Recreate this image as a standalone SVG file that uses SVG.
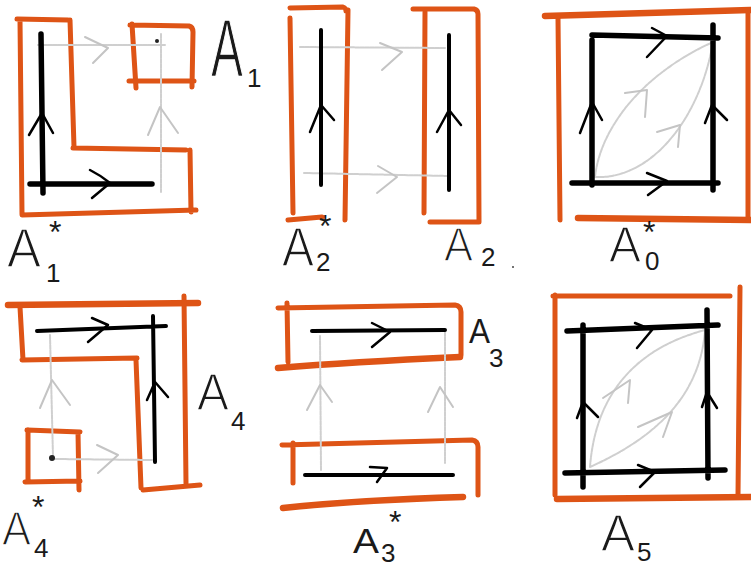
<svg xmlns="http://www.w3.org/2000/svg" width="751" height="569" viewBox="0 0 751 569">
<style>
.o{fill:none;stroke:#DE5416;stroke-width:5;stroke-linecap:round;stroke-linejoin:round}
.ot{stroke-width:6.5}
.b{fill:none;stroke:#000;stroke-width:4;stroke-linecap:round}
.bt{stroke-width:5.5}
.bc{fill:none;stroke:#000;stroke-width:2.5;stroke-linecap:round;stroke-linejoin:round}
.g{fill:none;stroke:#cfcfcf;stroke-width:2;stroke-linecap:round;stroke-dasharray:4 1}
.gc{fill:none;stroke:#c4c4c4;stroke-width:2;stroke-linecap:round;stroke-linejoin:round}
.A{font-family:"Liberation Sans",Arial,sans-serif;fill:#1a1a1a;stroke:#fff;stroke-width:1.5}
.As{font-family:"Liberation Sans",Arial,sans-serif;fill:#1a1a1a}
.s{font-family:"Liberation Sans",Arial,sans-serif;fill:#1a1a1a;font-size:26px}
.st{font-family:"Liberation Sans",Arial,sans-serif;fill:#1a1a1a;font-size:32px}
</style>
<rect width="751" height="569" fill="#fff"/>

<g id="panel1">
  <path class="o" d="M17,19 L68,20 M20,20 L22,214 M70,20 L74,147 M73,148 L186,150 M190,150 L191,212 M22,215 L196,210"/>
  <path class="o" d="M132,24 L136,88 M130,25 L189,26 Q193,27 193,32 L192,87 M129,81 L194,81"/>
  <path class="g" d="M38,45 L165,45 M161,34 L161,192"/>
  <path class="gc" d="M85,37 L108,48 L93,63 M148,135 L160,107 L178,133"/>
  <path class="b bt" d="M41,34 L43,193 M30,184 L152,184"/>
  <path class="bc" d="M29,135 L42,113 L53,133 M90,170 Q100,175 110,183 L92,198"/>
  <circle cx="157" cy="41" r="2" fill="#222"/>
  <text class="A" transform="translate(211,76) scale(0.585,1)" font-size="82" stroke-width="2.6">A</text>
  <text class="s" x="247" y="87">1</text>
  <text class="A" transform="translate(7,267) scale(0.91,1)" font-size="56">A</text>
  <text class="st" x="49" y="243">*</text>
  <text class="s" x="46" y="282">1</text>
</g>

<g id="panel2">
  <path class="o" d="M290,8 L343,7 Q346,8 346,11 M290,18 L293,213 M348,10 L345,220 M288,220 L322,217"/>
  <path class="o" d="M413,9 L474,9 Q478,10 478,14 M425,12 L424,213 M478,14 L479,222 M430,222 L478,222"/>
  <path class="g" d="M300,47 L445,48 M304,173 L450,176"/>
  <path class="gc" d="M380,43 L402,52 L382,70 M378,166 L397,177 L377,193"/>
  <path class="b" d="M321,30 L321,185 M449,35 L449,190"/>
  <path class="bc" d="M310,132 L321,105 L334,120 M437,132 L449,110 L461,125"/>
  <text class="A" transform="translate(282,266) scale(0.857,1)" font-size="56">A</text>
  <text class="s" x="316" y="271">2</text>
  <text class="st" x="319" y="237">*</text>
  <text class="A" transform="translate(444,261) scale(0.906,1)" font-size="48">A</text>
  <text class="s" x="481" y="266">2</text>
  <circle cx="513" cy="267" r="1" fill="#444"/>
</g>

<g id="panel0">
  <path class="o ot" d="M545,16 L750,10 M578,218 L750,220"/>
  <path class="o" d="M558,18 L560,220 M748,12 L748,220"/>
  <path class="g" d="M595,177 C600,130 640,75 713,42 M595,177 C650,180 700,120 713,42"/>
  <path class="gc" d="M625,93 L647,90 L645,117 M657,132 L680,125 L678,147"/>
  <path class="b bt" d="M592,35 L718,38 M592,40 L592,185 M713,25 L713,190 M572,183 L718,183"/>
  <path class="bc" d="M652,28 L667,36 L647,57 M580,133 L592,102 L602,120 M705,123 L712,105 L727,120 M647,173 L667,181 L648,195"/>
  <text class="A" transform="translate(609,262) scale(0.96,1)" font-size="50">A</text>
  <text class="st" x="643" y="243">*</text>
  <text class="s" x="645" y="270" font-size="22">0</text>
</g>

<g id="panel4">
  <path class="o ot" d="M8,305 L198,303"/>
  <path class="o" d="M20,307 L23,360 M22,360 L137,358 M136,360 L141,488 M143,490 L200,485 M184,296 L186,484"/>
  <path class="o" d="M27,430 L80,432 M28,430 L28,482 M78,432 L79,490 M25,482 L80,481"/>
  <path class="g" d="M50,335 L53,457 M55,459 L152,460"/>
  <path class="gc" d="M40,408 L52,380 L70,405 M97,445 L118,455 L98,473"/>
  <path class="b" d="M37,331 L166,326 M153,316 L155,462"/>
  <path class="bc" d="M92,318 L108,325 L88,342 M147,400 L155,382 L168,397"/>
  <circle cx="52" cy="458" r="3" fill="#222"/>
  <text class="A" transform="translate(197,410) scale(0.92,1)" font-size="52">A</text>
  <text class="s" x="231" y="430">4</text>
  <text class="A" transform="translate(2,545) scale(0.887,1)" font-size="49">A</text>
  <text class="st" x="32" y="518">*</text>
  <text class="s" x="34" y="557">4</text>
</g>

<g id="panel3">
  <path class="o" d="M278,308 L455,305 Q461,306 461,312 L461,355 M287,303 L288,362"/>
  <path class="o ot" d="M278,368 Q350,362 460,357"/>
  <path class="o" d="M282,445 L472,440 Q478,441 478,447 L478,495 M293,443 L293,483"/>
  <path class="o ot" d="M283,508 Q360,500 463,497"/>
  <path class="g" d="M320,336 L321,470 M445,332 L445,463"/>
  <path class="gc" d="M307,410 L320,385 L332,402 M428,412 L440,387 L453,407"/>
  <path class="b" d="M312,331 L445,330 M305,475 L453,475"/>
  <path class="bc" d="M372,323 L390,332 L372,347 M370,467 L387,468 L377,482"/>
  <text class="As" transform="translate(469,343) scale(0.875,1)" font-size="36">A</text>
  <text class="s" x="489" y="367">3</text>
  <text class="As" transform="translate(353,553) scale(1.08,1)" font-size="36">A</text>
  <text class="st" x="389" y="533">*</text>
  <text class="s" x="381" y="562">3</text>
</g>

<g id="panel5">
  <path class="o" d="M553,296 L730,296 M555,295 L555,495 M740,287 L738,495"/>
  <path class="o ot" d="M557,499 L751,497"/>
  <path class="g" d="M590,467 C595,400 630,350 705,330 M590,467 C650,440 700,400 705,330"/>
  <path class="gc" d="M603,398 L630,380 L628,403 M638,427 L672,412 L663,437"/>
  <path class="b bt" d="M567,331 L718,325 M583,325 L583,487 M707,310 L708,478 M565,473 L725,470"/>
  <path class="bc" d="M635,323 L652,330 L637,348 M577,418 L583,402 L598,417 M702,407 L707,392 L717,408 M638,465 L655,472 L640,487"/>
  <text class="A" transform="translate(601,551) scale(0.98,1)" font-size="52">A</text>
  <text class="s" x="637" y="561">5</text>
</g>
</svg>
